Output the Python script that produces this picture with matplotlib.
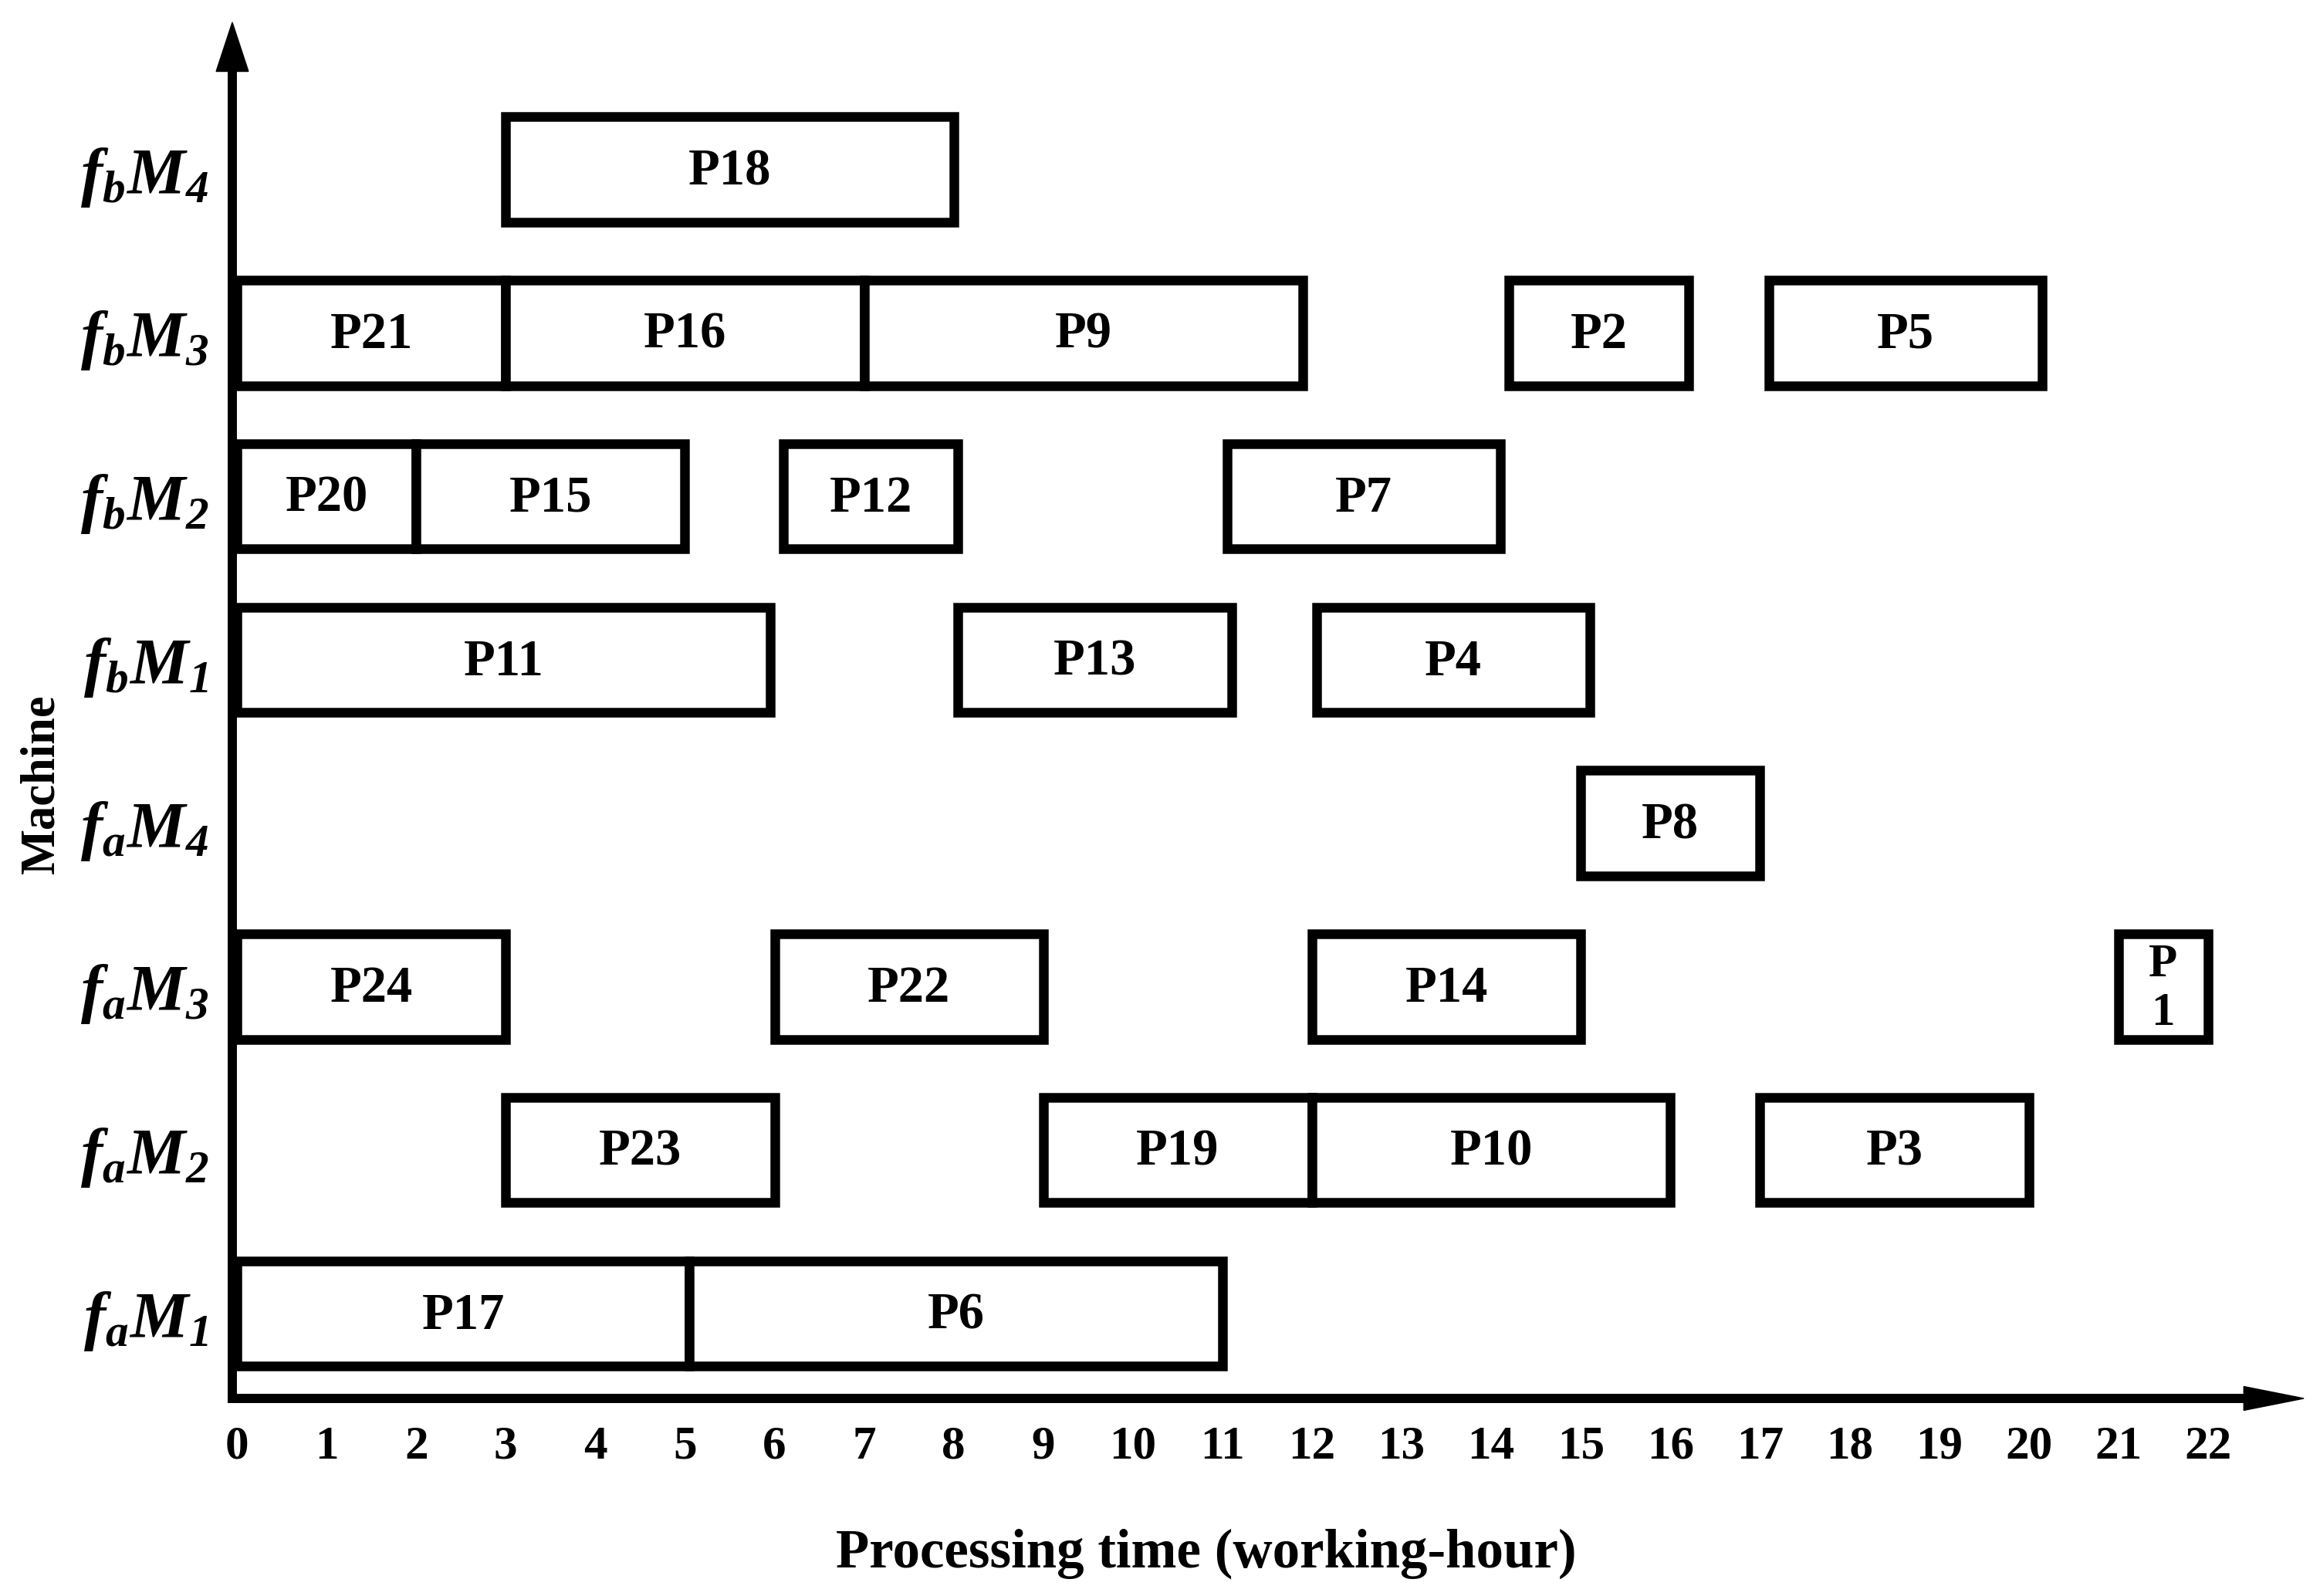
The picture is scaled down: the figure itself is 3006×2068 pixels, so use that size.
import matplotlib
matplotlib.use("Agg")
import matplotlib.pyplot as plt

plt.rcParams['font.family'] = ['Liberation Serif', 'DejaVu Serif']
plt.rcParams['font.weight'] = 'bold'
plt.rcParams['mathtext.fontset'] = 'custom'
plt.rcParams['mathtext.rm'] = 'Liberation Serif:italic'
plt.rcParams['mathtext.it'] = 'Liberation Serif:italic'
plt.rcParams['mathtext.bf'] = 'Liberation Serif:bold:italic'

# machines, bottom to top
machines = [r'$\mathbf{f}_{a}\mathbf{M}_{1}$', r'$\mathbf{f}_{a}\mathbf{M}_{2}$',
            r'$\mathbf{f}_{a}\mathbf{M}_{3}$', r'$\mathbf{f}_{a}\mathbf{M}_{4}$',
            r'$\mathbf{f}_{b}\mathbf{M}_{1}$', r'$\mathbf{f}_{b}\mathbf{M}_{2}$',
            r'$\mathbf{f}_{b}\mathbf{M}_{3}$', r'$\mathbf{f}_{b}\mathbf{M}_{4}$']

# jobs: name, machine index, start, end (working-hour)
job_names = ['P17', 'P6',
             'P23', 'P19', 'P10', 'P3',
             'P24', 'P22', 'P14', 'P\n1',
             'P8',
             'P11', 'P13', 'P4',
             'P20', 'P15', 'P12', 'P7',
             'P21', 'P16', 'P9', 'P2', 'P5',
             'P18']
job_machine = [0, 0,
               1, 1, 1, 1,
               2, 2, 2, 2,
               3,
               4, 4, 4,
               5, 5, 5, 5,
               6, 6, 6, 6, 6,
               7]
job_start = [0, 5.05,
             3, 9, 12, 17,
             0, 6, 12, 21,
             15,
             0, 8.05, 12.05,
             0, 2, 6.1, 11.05,
             0, 3, 7, 14.2, 17.1,
             3]
job_end = [5.05, 11,
           6, 12, 16, 20,
           3, 9, 15, 22,
           17,
           5.95, 11.1, 15.1,
           2, 5, 8.05, 14.1,
           3, 7, 11.9, 16.2, 20.15,
           8]

x_ticks = list(range(0, 23))

fig = plt.figure(figsize=(30.06, 20.68), dpi=100)
ax = fig.add_axes([0.10013, 0.12379, 0.8929, 0.8622])

xmin, xmax = -0.052, 23.07
ymin, ymax = -0.52, 7.90
ax.set_xlim(xmin, xmax)
ax.set_ylim(ymin, ymax)

lw_box = 9
for name, m, s, e in zip(job_names, job_machine, job_start, job_end):
    ax.barh(m, e - s, left=s, height=0.645, color='white',
            edgecolor='black', linewidth=lw_box, zorder=2)
    two_lines = '\n' in name
    ax.text((s + e) / 2, m - 0.015, name, ha='center', va='center',
            fontsize=44 if two_lines else 48, fontweight='bold',
            linespacing=1.18, zorder=3)

# axes with arrow heads
for sp in ['top', 'right']:
    ax.spines[sp].set_visible(False)
ax.spines['left'].set_linewidth(8.6)
ax.spines['bottom'].set_linewidth(8.6)
ax.spines['left'].set_bounds(ymin, 7.6)
ax.spines['bottom'].set_bounds(xmin, 22.45)
ax.fill([xmin - 0.18, xmin + 0.18, xmin], [7.60, 7.60, ymax],
        color='black', clip_on=False, zorder=4)
ax.fill([22.40, 22.40, xmax], [ymin - 0.073, ymin + 0.073, ymin],
        color='black', clip_on=False, zorder=4)

ax.set_xticks(x_ticks)
ax.set_xticklabels([str(t) for t in x_ticks], fontsize=44, fontweight='bold')
ax.set_yticks(range(len(machines)))
ax.set_yticklabels(machines, fontsize=61)
ax.tick_params(axis='x', length=0, pad=25)
ax.tick_params(axis='y', length=0, pad=22)

fig.text(54 / 3006, 1 - 1016 / 2068, 'Machine', rotation=90, ha='center',
         va='center', fontsize=45, fontweight='bold')
fig.text(1563 / 3006, 1 - 2013 / 2068, 'Processing time (working-hour)',
         ha='center', va='center', fontsize=51, fontweight='bold')

fig.savefig('out.png', dpi=100)
